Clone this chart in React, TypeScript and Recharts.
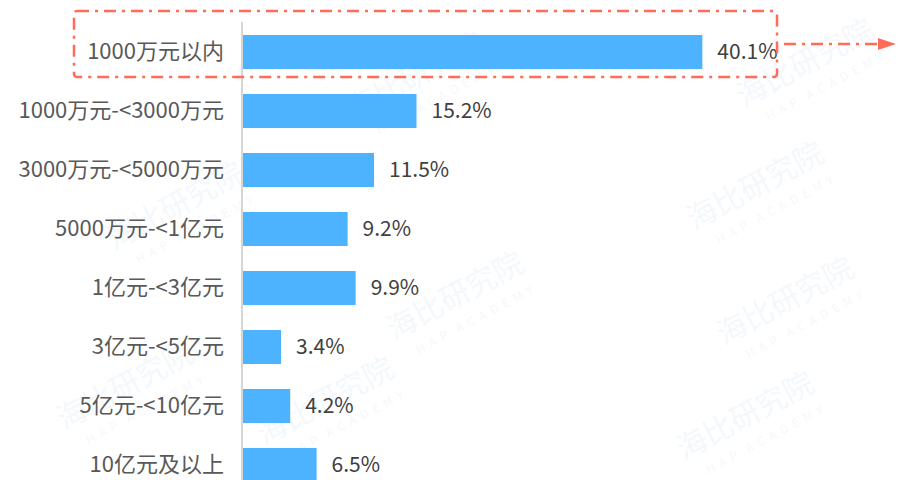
import React from 'react';
import { BarChart, Bar, XAxis, YAxis, LabelList } from 'recharts';

const categories = [
  '1000万元以内',
  '1000万元-<3000万元',
  '3000万元-<5000万元',
  '5000万元-<1亿元',
  '1亿元-<3亿元',
  '3亿元-<5亿元',
  '5亿元-<10亿元',
  '10亿元及以上',
];
const shares = [40.1, 15.2, 11.5, 9.2, 9.9, 3.4, 4.2, 6.5];

const data = categories.map((name, i) => ({ name, value: shares[i] }));

const font = '"Microsoft YaHei", "Noto Sans CJK SC", sans-serif';

// faint watermark spots
const marks = [
  [810, 72], [420, 85], [180, 215], [760, 195], [460, 305], [790, 310], [130, 395], [330, 410], [750, 425],
];

export default function App() {
  return (
    <div style={{ position: 'absolute', left: 0, top: 0, width: 901, height: 480, overflow: 'hidden', background: '#fff' }}>
      <svg width={901} height={480} style={{ position: 'absolute', left: 0, top: 0 }}>
        {marks.map(([x, y], i) => (
          <g key={i} transform={`translate(${x},${y}) rotate(-28)`} opacity={0.05} fill="#2f7fd0" fontFamily={font}>
            <text x={0} y={0} fontSize={30} textAnchor="middle">海比研究院</text>
            <text x={6} y={24} fontSize={12} textAnchor="middle" xmlSpace="preserve">H  A  P    A  C  A  D  E  M  Y</text>
          </g>
        ))}
      </svg>
      <div style={{ position: 'absolute', left: 0, top: 0 }}>
        <BarChart
          width={901}
          height={520}
          data={data}
          layout="vertical"
          margin={{ top: 22, right: 85, left: 0, bottom: 26 }}
          barSize={34}
        >
          <XAxis type="number" domain={[0, 50]} hide />
          <YAxis
            type="category"
            dataKey="name"
            width={242}
            tickLine={false}
            axisLine={{ stroke: '#d6d6d6', strokeWidth: 2 }}
            tickMargin={12}
            tick={{ fontSize: 22, fill: '#595959', fontFamily: font }}
            interval={0}
          />
          <Bar dataKey="value" fill="#4db3ff" isAnimationActive={false}>
            <LabelList
              dataKey="value"
              position="right"
              offset={15}
              formatter={(v: number) => `${v}%`}
              style={{ fontSize: 21, fill: '#404040', fontFamily: font }}
            />
          </Bar>
        </BarChart>
      </div>
      <svg width={901} height={480} style={{ position: 'absolute', left: 0, top: 0, pointerEvents: 'none' }}>
        <rect x={74} y={11} width={703} height={66} rx={3} fill="none" stroke="#ff6d5a" strokeWidth={2.5} strokeDasharray="12 6 3 6" />
        <line x1={784} y1={44} x2={880} y2={44} stroke="#ff6d5a" strokeWidth={2.5} strokeDasharray="12 6 3 6" />
        <polygon points="878,38 896,44 878,50" fill="#ff6d5a" />
      </svg>
    </div>
  );
}
